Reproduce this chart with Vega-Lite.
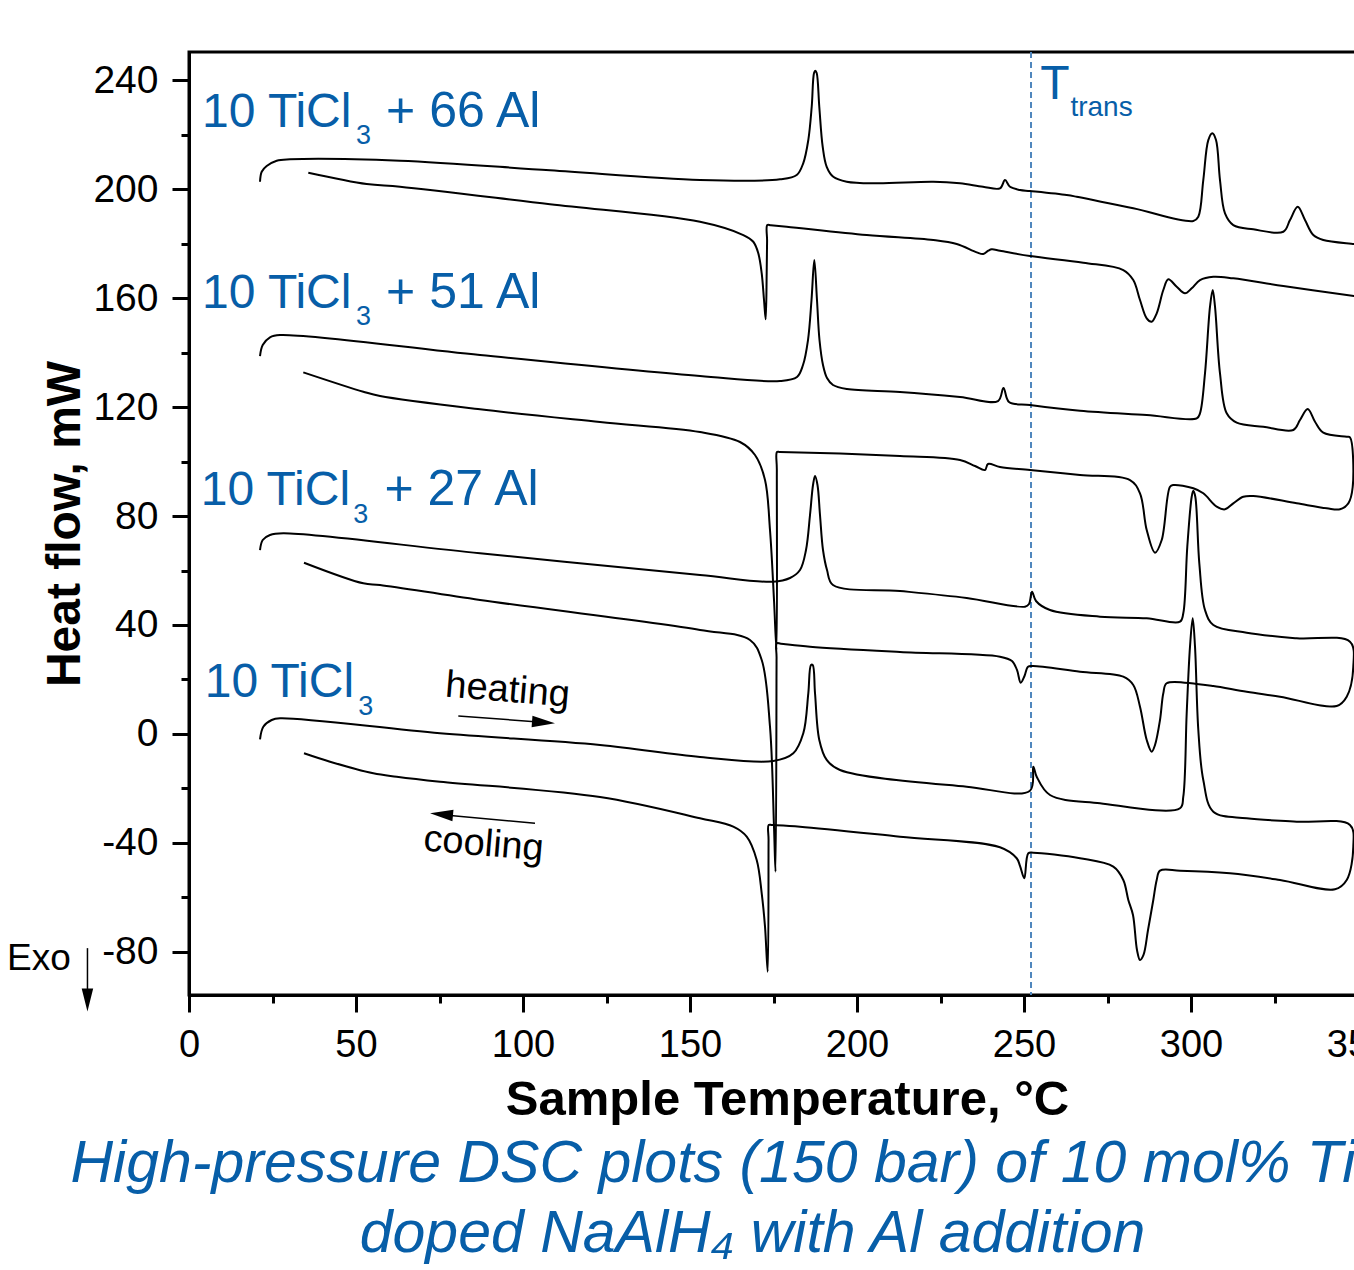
{
  "$schema": "https://vega.github.io/schema/vega-lite/v6.json",
  "width": 1169,
  "height": 943,
  "autosize": {"type": "none"},
  "padding": {"left": 189, "top": 52, "right": 0, "bottom": 275},
  "background": "white",
  "config": {
    "font": "Liberation Sans",
    "view": {"stroke": "black", "strokeWidth": 3},
    "axis": {"grid": false, "domainColor": "black", "domainWidth": 3, "tickColor": "black", "tickWidth": 3, "labelColor": "black", "titleColor": "black", "labelFont": "Liberation Sans", "titleFont": "Liberation Sans"}
  },
  "title": {
    "text": ["High-pressure DSC plots (150 bar) of 10 mol% TiCl₃", "doped NaAlH₄ with Al addition"],
    "orient": "bottom", "anchor": "middle", "frame": "group", "offset": 11, "dx": -21,
    "fontSize": 59, "fontStyle": "italic", "fontWeight": "normal", "font": "Liberation Sans", "color": "#075ea8", "lineHeight": 70
  },
  "datasets": {
    "curves": [
      {"s":"66","o":1,"t":21.26,"h":202.68},{"s":"66","o":2,"t":21.77,"h":206.35},{"s":"66","o":3,"t":23.26,"h":208.44},{"s":"66","o":4,"t":26.26,"h":210.39},{"s":"66","o":5,"t":30.24,"h":210.9},{"s":"66","o":6,"t":63.17,"h":210.39},{"s":"66","o":7,"t":108.08,"h":206.86},{"s":"66","o":8,"t":153.0,"h":203.3},{"s":"66","o":9,"t":176.95,"h":203.56},{"s":"66","o":10,"t":181.95,"h":205.14},{"s":"66","o":11,"t":183.92,"h":209.54},{"s":"66","o":12,"t":185.42,"h":217.98},{"s":"66","o":13,"t":186.44,"h":230.2},{"s":"66","o":14,"t":187.13,"h":242.57},{"s":"66","o":15,"t":187.51,"h":243.41},{"s":"66","o":16,"t":187.93,"h":242.57},{"s":"66","o":17,"t":188.71,"h":230.2},{"s":"66","o":18,"t":189.73,"h":215.52},{"s":"66","o":19,"t":190.93,"h":208.18},{"s":"66","o":20,"t":192.9,"h":204.51},{"s":"66","o":21,"t":196.92,"h":202.68},{"s":"66","o":22,"t":205.9,"h":202.09},{"s":"66","o":23,"t":222.84,"h":202.68},{"s":"66","o":24,"t":230.84,"h":202.09},{"s":"66","o":25,"t":237.72,"h":200.84},{"s":"66","o":26,"t":242.81,"h":200.26},{"s":"66","o":27,"t":244.31,"h":203.3},{"s":"66","o":28,"t":245.81,"h":200.84},{"s":"66","o":29,"t":248.8,"h":199.63},{"s":"66","o":30,"t":251.8,"h":199.27},{"s":"66","o":31,"t":262.78,"h":197.8},{"s":"66","o":32,"t":265.78,"h":197.17},{"s":"66","o":33,"t":282.72,"h":192.92},{"s":"66","o":34,"t":300.69,"h":188.26},{"s":"66","o":35,"t":302.19,"h":189.83},{"s":"66","o":36,"t":303.68,"h":203.3},{"s":"66","o":37,"t":305.18,"h":217.98},{"s":"66","o":38,"t":306.38,"h":220.44},{"s":"66","o":39,"t":307.49,"h":217.98},{"s":"66","o":40,"t":308.68,"h":203.3},{"s":"66","o":41,"t":310.18,"h":191.08},{"s":"66","o":42,"t":312.66,"h":186.79},{"s":"66","o":43,"t":318.65,"h":185.21},{"s":"66","o":44,"t":327.63,"h":184.33},{"s":"66","o":45,"t":329.64,"h":188.62},{"s":"66","o":46,"t":331.95,"h":193.5},{"s":"66","o":47,"t":334.13,"h":188.62},{"s":"66","o":48,"t":336.62,"h":183.12},{"s":"66","o":49,"t":339.61,"h":181.28},{"s":"66","o":50,"t":348.8,"h":179.82},{"s":"66","o":51,"t":349.8,"h":179.6},{"s":"66","o":52,"t":350.3,"h":168},{"s":"66","o":53,"t":349.8,"h":160.5},
      {"s":"66","o":54,"t":348.8,"h":160.73},{"s":"66","o":55,"t":327.63,"h":164.4},{"s":"66","o":56,"t":312.66,"h":167.23},{"s":"66","o":57,"t":306.68,"h":167.82},{"s":"66","o":58,"t":302.69,"h":166.61},{"s":"66","o":59,"t":300.21,"h":163.56},{"s":"66","o":60,"t":298.2,"h":161.72},{"s":"66","o":61,"t":295.72,"h":164.15},{"s":"66","o":62,"t":293.2,"h":166.86},{"s":"66","o":63,"t":291.71,"h":162.94},{"s":"66","o":64,"t":289.73,"h":154.39},{"s":"66","o":65,"t":288.23,"h":151.3},{"s":"66","o":66,"t":286.74,"h":152.55},{"s":"66","o":67,"t":284.73,"h":159.27},{"s":"66","o":68,"t":282.72,"h":166.61},{"s":"66","o":69,"t":279.73,"h":170.28},{"s":"66","o":70,"t":267.75,"h":172.95},{"s":"66","o":71,"t":251.8,"h":175.41},{"s":"66","o":72,"t":242.81,"h":177.36},{"s":"66","o":73,"t":240.33,"h":177.87},{"s":"66","o":74,"t":239.31,"h":177.36},{"s":"66","o":75,"t":237.81,"h":176.15},{"s":"66","o":76,"t":235.84,"h":176.77},{"s":"66","o":77,"t":229.85,"h":179.82},{"s":"66","o":78,"t":222.84,"h":181.28},{"s":"66","o":79,"t":202.9,"h":183.12},{"s":"66","o":80,"t":178.95,"h":186.17},{"s":"66","o":80.5,"t":174.2,"h":186.7},{"s":"66","o":81,"t":173.14,"h":186.79},{"s":"66","o":81.5,"t":173.08,"h":181.0},{"s":"66","o":82,"t":172.96,"h":169.17},{"s":"66","o":83,"t":172.66,"h":152.18},{"s":"66","o":84,"t":172.16,"h":159.27},{"s":"66","o":85,"t":171.47,"h":169.06},{"s":"66","o":86,"t":170.45,"h":176.4},{"s":"66","o":87,"t":168.95,"h":180.66},{"s":"66","o":88,"t":165.96,"h":183.12},{"s":"66","o":89,"t":153.0,"h":188.0},{"s":"66","o":90,"t":108.08,"h":194.42},{"s":"66","o":91,"t":63.17,"h":200.84},{"s":"66","o":92,"t":53.2,"h":201.83},{"s":"66","o":93,"t":35.72,"h":205.98},

      {"s":"51","o":1,"t":21.26,"h":138.72},{"s":"51","o":2,"t":22.07,"h":142.75},{"s":"51","o":3,"t":24.25,"h":145.58},{"s":"51","o":4,"t":27.25,"h":146.42},{"s":"51","o":5,"t":87.13,"h":139.08},{"s":"51","o":6,"t":153.0,"h":131.38},{"s":"51","o":7,"t":176.95,"h":129.54},{"s":"51","o":8,"t":182.04,"h":131.01},{"s":"51","o":9,"t":183.83,"h":135.41},{"s":"51","o":10,"t":185.33,"h":144.59},{"s":"51","o":11,"t":186.38,"h":159.27},{"s":"51","o":12,"t":187.22,"h":173.94},{"s":"51","o":13,"t":188.02,"h":159.27},{"s":"51","o":14,"t":188.77,"h":144.59},{"s":"51","o":15,"t":189.82,"h":135.41},{"s":"51","o":16,"t":191.02,"h":130.64},{"s":"51","o":17,"t":192.81,"h":128.07},{"s":"51","o":18,"t":197.01,"h":126.61},{"s":"51","o":19,"t":212.87,"h":125.5},{"s":"51","o":20,"t":230.84,"h":123.67},{"s":"51","o":21,"t":242.22,"h":122.2},{"s":"51","o":22,"t":243.86,"h":126.97},{"s":"51","o":23,"t":245.51,"h":121.83},{"s":"51","o":24,"t":251.8,"h":120.73},{"s":"51","o":25,"t":266.77,"h":118.64},{"s":"51","o":26,"t":286.74,"h":117.06},{"s":"51","o":27,"t":301.71,"h":115.85},{"s":"51","o":28,"t":302.69,"h":117.69},{"s":"51","o":29,"t":304.19,"h":132.37},{"s":"51","o":30,"t":305.69,"h":156.81},{"s":"51","o":31,"t":306.5,"h":162.94},{"s":"51","o":32,"t":307.19,"h":156.81},{"s":"51","o":33,"t":308.68,"h":132.37},{"s":"51","o":34,"t":310.69,"h":117.69},{"s":"51","o":35,"t":313.68,"h":114.24},{"s":"51","o":36,"t":321.65,"h":112.77},{"s":"51","o":37,"t":330.63,"h":111.56},{"s":"51","o":38,"t":332.63,"h":115.23},{"s":"51","o":39,"t":334.94,"h":119.27},{"s":"51","o":40,"t":337.13,"h":114.61},{"s":"51","o":41,"t":339.61,"h":110.57},{"s":"51","o":42,"t":346.62,"h":109.1},{"s":"51","o":43,"t":347.6,"h":108.88},{"s":"51","o":44,"t":348.41,"h":90.64},{"s":"51","o":45,"t":347.1,"h":84.66},{"s":"51","o":46,"t":344.61,"h":82.46},{"s":"51","o":47,"t":340.63,"h":82.83},{"s":"51","o":48,"t":331.65,"h":84.66},{"s":"51","o":49,"t":318.65,"h":87.34},{"s":"51","o":50,"t":315.66,"h":87.08},{"s":"51","o":51,"t":312.66,"h":84.66},{"s":"51","o":52,"t":310.18,"h":82.46},{"s":"51","o":53,"t":307.69,"h":83.41},{"s":"51","o":54,"t":303.68,"h":88.33},{"s":"51","o":55,"t":300.69,"h":90.17},{"s":"51","o":56,"t":294.7,"h":91.38},{"s":"51","o":57,"t":293.71,"h":90.75},{"s":"51","o":58,"t":291.23,"h":71.19},{"s":"51","o":59,"t":289.22,"h":66.53},{"s":"51","o":60,"t":286.74,"h":74.86},{"s":"51","o":61,"t":284.73,"h":88.33},{"s":"51","o":62,"t":281.74,"h":93.21},{"s":"51","o":63,"t":266.77,"h":95.05},{"s":"51","o":64,"t":251.8,"h":96.88},{"s":"51","o":65,"t":242.81,"h":97.98},{"s":"51","o":66,"t":239.22,"h":99.08},{"s":"51","o":67,"t":238.32,"h":96.88},{"s":"51","o":68,"t":235.33,"h":98.35},{"s":"51","o":69,"t":230.84,"h":100.55},{"s":"51","o":70,"t":212.87,"h":102.02},{"s":"51","o":71,"t":176.95,"h":103.49},{"s":"51","o":72,"t":176.05,"h":103.49},{"s":"51","o":72.5,"t":176.0,"h":97.0},{"s":"51","o":73,"t":175.9,"h":30.83},{"s":"51","o":74,"t":175.15,"h":49.17},{"s":"51","o":75,"t":173.95,"h":74.86},{"s":"51","o":76,"t":172.46,"h":93.21},{"s":"51","o":77,"t":169.46,"h":102.39},{"s":"51","o":78,"t":164.97,"h":107.16},{"s":"51","o":79,"t":153.0,"h":110.83},{"s":"51","o":80,"t":123.05,"h":114.5},{"s":"51","o":81,"t":87.13,"h":119.16},{"s":"51","o":82,"t":57.19,"h":124.04},{"s":"51","o":83,"t":52.19,"h":125.61},{"s":"51","o":84,"t":34.22,"h":132.73},

      {"s":"27","o":1,"t":21.26,"h":67.52},{"s":"27","o":2,"t":22.07,"h":71.19},{"s":"27","o":3,"t":24.25,"h":73.03},{"s":"27","o":4,"t":28.23,"h":73.65},{"s":"27","o":5,"t":87.13,"h":66.31},{"s":"27","o":6,"t":153.0,"h":58.35},{"s":"27","o":7,"t":174.85,"h":55.89},{"s":"27","o":8,"t":179.94,"h":57.25},{"s":"27","o":9,"t":182.93,"h":60.18},{"s":"27","o":10,"t":184.73,"h":67.52},{"s":"27","o":11,"t":185.93,"h":80.37},{"s":"27","o":12,"t":186.83,"h":91.38},{"s":"27","o":13,"t":187.43,"h":94.68},{"s":"27","o":14,"t":188.17,"h":91.38},{"s":"27","o":15,"t":188.92,"h":80.37},{"s":"27","o":16,"t":189.82,"h":67.52},{"s":"27","o":17,"t":191.02,"h":60.18},{"s":"27","o":18,"t":192.81,"h":54.68},{"s":"27","o":19,"t":212.87,"h":52.48},{"s":"27","o":20,"t":232.84,"h":49.91},{"s":"27","o":21,"t":250.3,"h":46.72},{"s":"27","o":22,"t":251.5,"h":47.71},{"s":"27","o":23,"t":252.4,"h":52.22},{"s":"27","o":24,"t":253.59,"h":48.81},{"s":"27","o":25,"t":257.78,"h":45.5},{"s":"27","o":26,"t":272.75,"h":43.05},{"s":"27","o":27,"t":286.74,"h":42.46},{"s":"27","o":28,"t":296.71,"h":41.21},{"s":"27","o":29,"t":297.69,"h":44.29},{"s":"27","o":30,"t":298.89,"h":68.73},{"s":"27","o":31,"t":300.21,"h":87.08},{"s":"27","o":32,"t":300.69,"h":89.28},{"s":"27","o":33,"t":301.29,"h":87.08},{"s":"27","o":34,"t":302.49,"h":62.64},{"s":"27","o":35,"t":304.19,"h":45.5},{"s":"27","o":36,"t":306.68,"h":40.0},{"s":"27","o":37,"t":316.68,"h":37.17},{"s":"27","o":38,"t":331.65,"h":35.12},{"s":"27","o":39,"t":347.6,"h":33.87},{"s":"27","o":40,"t":348.59,"h":24.7},{"s":"27","o":41,"t":346.62,"h":13.69},{"s":"27","o":42,"t":343.62,"h":10.28},{"s":"27","o":43,"t":326.65,"h":13.69},{"s":"27","o":44,"t":316.68,"h":15.52},{"s":"27","o":45,"t":306.68,"h":17.61},{"s":"27","o":46,"t":301.71,"h":18.35},{"s":"27","o":47,"t":292.72,"h":18.61},{"s":"27","o":48,"t":291.71,"h":14.94},{"s":"27","o":49,"t":290.72,"h":5.14},{"s":"27","o":50,"t":289.22,"h":-4.04},{"s":"27","o":51,"t":288.23,"h":-6.5},{"s":"27","o":52,"t":286.74,"h":-2.2},{"s":"27","o":53,"t":284.73,"h":10.02},{"s":"27","o":54,"t":282.72,"h":17.98},{"s":"27","o":55,"t":279.73,"h":21.03},{"s":"27","o":56,"t":266.77,"h":22.86},{"s":"27","o":57,"t":252.69,"h":24.95},{"s":"27","o":58,"t":251.2,"h":24.7},{"s":"27","o":59,"t":250.15,"h":21.28},{"s":"27","o":60,"t":249.01,"h":18.83},{"s":"27","o":61,"t":247.9,"h":23.49},{"s":"27","o":62,"t":246.41,"h":26.79},{"s":"27","o":63,"t":242.81,"h":28.37},{"s":"27","o":64,"t":212.87,"h":30.09},{"s":"27","o":65,"t":185.93,"h":32.04},{"s":"27","o":65.5,"t":177.2,"h":33.15},{"s":"27","o":66,"t":175.96,"h":33.28},{"s":"27","o":66.5,"t":175.92,"h":28.0},{"s":"27","o":67,"t":175.6,"h":-50.53},{"s":"27","o":68,"t":175.15,"h":-34.02},{"s":"27","o":69,"t":173.95,"h":2.68},{"s":"27","o":70,"t":171.47,"h":27.16},{"s":"27","o":71,"t":167.96,"h":34.5},{"s":"27","o":72,"t":153.0,"h":38.17},{"s":"27","o":73,"t":87.13,"h":49.17},{"s":"27","o":74,"t":57.19,"h":54.68},{"s":"27","o":75,"t":52.19,"h":55.3},{"s":"27","o":76,"t":34.43,"h":62.86},

      {"s":"10","o":1,"t":21.26,"h":-1.94},{"s":"10","o":2,"t":22.25,"h":2.68},{"s":"10","o":3,"t":24.76,"h":5.14},{"s":"10","o":4,"t":27.25,"h":5.76},{"s":"10","o":5,"t":75.15,"h":0.26},{"s":"10","o":6,"t":123.05,"h":-4.04},{"s":"10","o":7,"t":153.0,"h":-8.44},{"s":"10","o":8,"t":174.94,"h":-9.91},{"s":"10","o":9,"t":180.93,"h":-7.08},{"s":"10","o":10,"t":183.92,"h":0.26},{"s":"10","o":11,"t":185.42,"h":14.94},{"s":"10","o":12,"t":186.23,"h":25.32},{"s":"10","o":13,"t":186.74,"h":25.32},{"s":"10","o":14,"t":187.43,"h":14.94},{"s":"10","o":15,"t":188.71,"h":-2.2},{"s":"10","o":16,"t":190.93,"h":-9.54},{"s":"10","o":17,"t":194.91,"h":-13.21},{"s":"10","o":18,"t":232.84,"h":-19.34},{"s":"10","o":19,"t":251.8,"h":-20.81},{"s":"10","o":20,"t":252.78,"h":-12.0},{"s":"10","o":21,"t":253.8,"h":-15.67},{"s":"10","o":22,"t":257.78,"h":-22.39},{"s":"10","o":23,"t":272.75,"h":-25.43},{"s":"10","o":24,"t":296.71,"h":-27.27},{"s":"10","o":25,"t":297.69,"h":-23.01},{"s":"10","o":26,"t":298.71,"h":7.6},{"s":"10","o":27,"t":299.7,"h":32.04},{"s":"10","o":28,"t":300.51,"h":42.46},{"s":"10","o":29,"t":301.2,"h":32.04},{"s":"10","o":30,"t":302.19,"h":1.47},{"s":"10","o":31,"t":303.68,"h":-16.88},{"s":"10","o":32,"t":306.68,"h":-28.51},{"s":"10","o":33,"t":316.68,"h":-30.94},{"s":"10","o":34,"t":331.65,"h":-32.18},{"s":"10","o":35,"t":347.6,"h":-33.39},{"s":"10","o":36,"t":348.59,"h":-41.36},{"s":"10","o":37,"t":346.62,"h":-53.58},{"s":"10","o":38,"t":343.11,"h":-56.99},{"s":"10","o":39,"t":326.65,"h":-53.58},{"s":"10","o":40,"t":311.68,"h":-51.12},{"s":"10","o":41,"t":296.71,"h":-50.17},{"s":"10","o":42,"t":290.72,"h":-50.17},{"s":"10","o":43,"t":289.73,"h":-53.58},{"s":"10","o":44,"t":288.71,"h":-60.92},{"s":"10","o":45,"t":287.13,"h":-71.93},{"s":"10","o":46,"t":285.78,"h":-81.1},{"s":"10","o":47,"t":284.73,"h":-82.94},{"s":"10","o":48,"t":283.83,"h":-79.27},{"s":"10","o":49,"t":282.63,"h":-66.42},{"s":"10","o":50,"t":281.23,"h":-60.92},{"s":"10","o":51,"t":279.73,"h":-53.58},{"s":"10","o":52,"t":276.74,"h":-48.7},{"s":"10","o":53,"t":266.77,"h":-45.61},{"s":"10","o":54,"t":252.78,"h":-43.56},{"s":"10","o":55,"t":251.29,"h":-43.78},{"s":"10","o":56,"t":250.09,"h":-52.95},{"s":"10","o":57,"t":248.8,"h":-48.4},{"s":"10","o":58,"t":247.81,"h":-45.61},{"s":"10","o":59,"t":242.81,"h":-41.58},{"s":"10","o":60,"t":212.87,"h":-37.69},{"s":"10","o":61,"t":182.93,"h":-34.02},{"s":"10","o":61.5,"t":174.6,"h":-33.45},{"s":"10","o":62,"t":173.56,"h":-33.39},{"s":"10","o":62.5,"t":173.52,"h":-39.0},{"s":"10","o":63,"t":173.26,"h":-87.23},{"s":"10","o":64,"t":172.46,"h":-70.72},{"s":"10","o":65,"t":171.47,"h":-58.46},{"s":"10","o":66,"t":169.97,"h":-46.24},{"s":"10","o":67,"t":166.98,"h":-37.69},{"s":"10","o":68,"t":162.96,"h":-34.02},{"s":"10","o":69,"t":153.0,"h":-30.94},{"s":"10","o":70,"t":123.05,"h":-23.12},{"s":"10","o":71,"t":75.15,"h":-17.5},{"s":"10","o":72,"t":62.19,"h":-15.67},{"s":"10","o":73,"t":55.18,"h":-14.42},{"s":"10","o":74,"t":42.22,"h":-10.17},{"s":"10","o":75,"t":34.43,"h":-7.08}
    ],
    "labmain": [
      {"t": 3.9, "h": 222.6, "txt": "10 TiCl"},
      {"t": 3.9, "h": 156.2, "txt": "10 TiCl"},
      {"t": 3.5, "h": 84.0, "txt": "10 TiCl"},
      {"t": 4.7, "h": 13.5, "txt": "10 TiCl"},
      {"t": 254.9, "h": 232.9, "txt": "T"}
    ],
    "labplus": [
      {"t": 59.0, "h": 222.6, "txt": "+ 66 Al"},
      {"t": 59.0, "h": 156.2, "txt": "+ 51 Al"},
      {"t": 58.5, "h": 84.0, "txt": "+ 27 Al"}
    ],
    "labsub": [
      {"t": 50.0, "h": 216.5, "txt": "3"},
      {"t": 50.0, "h": 150.1, "txt": "3"},
      {"t": 49.2, "h": 77.5, "txt": "3"},
      {"t": 50.7, "h": 7.0, "txt": "3"}
    ],
    "trans": [{"t": 263.9, "h": 226.8, "txt": "trans"}],
    "dirs": [
      {"t": 95.4, "h": 15.9, "txt": "heating"},
      {"t": 88.2, "h": -40.6, "txt": "cooling"}
    ],
    "exo": [{"t": -54.5, "h": -86.6, "txt": "Exo"}],
    "shafts": [
      {"t": 80.63, "h": 6.61, "t2": 106.59, "h2": 4.22},
      {"t": 103.59, "h": -32.77, "t2": 76.65, "h2": -29.72},
      {"t": -30.4, "h": -78.6, "t2": -30.4, "h2": -97.0}
    ],
    "ttrans": [{"t": 252.1}]
  },
  "layer": [
    {
      "data": {"name": "ttrans"},
      "mark": {"type": "rule", "color": "#4f86bd", "strokeWidth": 2, "strokeDash": [6, 4]},
      "encoding": {
        "x": {"field": "t", "type": "quantitative", "scale": {"domain": [0, 350], "nice": false, "zero": false}, "axis": null}
      }
    },
    {
      "data": {"name": "curves"},
      "mark": {"type": "line", "color": "black", "strokeWidth": 2, "interpolate": "catmull-rom"},
      "encoding": {
        "x": {"field": "t", "type": "quantitative", "scale": {"domain": [0, 350], "nice": false, "zero": false},
          "axis": {"orient": "bottom", "values": [0, 50, 100, 150, 200, 250, 300, 350], "tickSize": 17, "labelFontSize": 38, "labelPadding": 14, "labelFlush": false, "labelOverlap": false, "title": "Sample Temperature, °C", "titleFontSize": 49, "titleFontWeight": "bold", "titlePadding": 11, "titleX": 598}},
        "y": {"field": "h", "type": "quantitative", "scale": {"domain": [-95.8, 250.3], "nice": false, "zero": false},
          "axis": {"orient": "left", "values": [-80, -40, 0, 40, 80, 120, 160, 200, 240], "labelExpr": "'' + datum.value", "tickSize": 17, "labelFontSize": 39, "labelPadding": 14, "labelOverlap": false, "title": "Heat flow, mW", "titleFontSize": 48, "titleFontWeight": "bold", "titlePadding": 3}},
        "detail": {"field": "s"},
        "order": {"field": "o", "type": "quantitative"}
      }
    },
    {
      "data": {"values": [{"t": 100, "h": 0}]},
      "mark": {"type": "point", "opacity": 0},
      "encoding": {
        "x": {"field": "t", "type": "quantitative", "scale": {"domain": [0, 350], "nice": false, "zero": false},
          "axis": {"orient": "bottom", "values": [25, 75, 125, 175, 225, 275, 325], "labels": false, "tickSize": 8, "domain": false, "title": null}},
        "y": {"field": "h", "type": "quantitative", "scale": {"domain": [-95.8, 250.3], "nice": false, "zero": false},
          "axis": {"orient": "left", "values": [-60, -20, 20, 60, 100, 140, 180, 220], "labels": false, "tickSize": 8, "domain": false, "title": null}}
      }
    },
    {
      "data": {"name": "labmain"},
      "mark": {"type": "text", "align": "left", "baseline": "alphabetic", "fontSize": 48, "fill": "#075ea8", "font": "Liberation Sans"},
      "encoding": {
        "x": {"field": "t", "type": "quantitative", "scale": {"domain": [0, 350], "nice": false, "zero": false}, "axis": null},
        "y": {"field": "h", "type": "quantitative", "scale": {"domain": [-95.8, 250.3], "nice": false, "zero": false}, "axis": null},
        "text": {"field": "txt"}
      }
    },
    {
      "data": {"name": "labplus"},
      "mark": {"type": "text", "align": "left", "baseline": "alphabetic", "fontSize": 50, "fill": "#075ea8", "font": "Liberation Sans"},
      "encoding": {
        "x": {"field": "t", "type": "quantitative", "scale": {"domain": [0, 350], "nice": false, "zero": false}, "axis": null},
        "y": {"field": "h", "type": "quantitative", "scale": {"domain": [-95.8, 250.3], "nice": false, "zero": false}, "axis": null},
        "text": {"field": "txt"}
      }
    },
    {
      "data": {"name": "labsub"},
      "mark": {"type": "text", "align": "left", "baseline": "alphabetic", "fontSize": 27, "fill": "#075ea8", "font": "Liberation Sans"},
      "encoding": {
        "x": {"field": "t", "type": "quantitative", "scale": {"domain": [0, 350], "nice": false, "zero": false}, "axis": null},
        "y": {"field": "h", "type": "quantitative", "scale": {"domain": [-95.8, 250.3], "nice": false, "zero": false}, "axis": null},
        "text": {"field": "txt"}
      }
    },
    {
      "data": {"name": "trans"},
      "mark": {"type": "text", "align": "left", "baseline": "alphabetic", "fontSize": 28, "fill": "#075ea8", "font": "Liberation Sans"},
      "encoding": {
        "x": {"field": "t", "type": "quantitative", "scale": {"domain": [0, 350], "nice": false, "zero": false}, "axis": null},
        "y": {"field": "h", "type": "quantitative", "scale": {"domain": [-95.8, 250.3], "nice": false, "zero": false}, "axis": null},
        "text": {"field": "txt"}
      }
    },
    {
      "data": {"name": "dirs"},
      "mark": {"type": "text", "align": "center", "baseline": "middle", "fontSize": 38, "angle": 4.8, "fill": "black", "font": "Liberation Sans"},
      "encoding": {
        "x": {"field": "t", "type": "quantitative", "scale": {"domain": [0, 350], "nice": false, "zero": false}, "axis": null},
        "y": {"field": "h", "type": "quantitative", "scale": {"domain": [-95.8, 250.3], "nice": false, "zero": false}, "axis": null},
        "text": {"field": "txt"}
      }
    },
    {
      "data": {"name": "exo"},
      "mark": {"type": "text", "align": "left", "baseline": "alphabetic", "fontSize": 37, "fill": "black", "font": "Liberation Sans"},
      "encoding": {
        "x": {"field": "t", "type": "quantitative", "scale": {"domain": [0, 350], "nice": false, "zero": false}, "axis": null},
        "y": {"field": "h", "type": "quantitative", "scale": {"domain": [-95.8, 250.3], "nice": false, "zero": false}, "axis": null},
        "text": {"field": "txt"}
      }
    },
    {
      "data": {"name": "shafts"},
      "mark": {"type": "rule", "color": "black", "strokeWidth": 1.5},
      "encoding": {
        "x": {"field": "t", "type": "quantitative", "scale": {"domain": [0, 350], "nice": false, "zero": false}, "axis": null},
        "y": {"field": "h", "type": "quantitative", "scale": {"domain": [-95.8, 250.3], "nice": false, "zero": false}, "axis": null},
        "x2": {"field": "t2"},
        "y2": {"field": "h2"}
      }
    },
    {
      "data": {"values": [{"t": 106.14, "h": 4.26}]},
      "mark": {"type": "point", "shape": "M1,0L-1,-0.5L-1,0.5Z", "filled": true, "color": "black", "opacity": 1, "size": 529, "angle": 4.3},
      "encoding": {
        "x": {"field": "t", "type": "quantitative", "scale": {"domain": [0, 350], "nice": false, "zero": false}, "axis": null},
        "y": {"field": "h", "type": "quantitative", "scale": {"domain": [-95.8, 250.3], "nice": false, "zero": false}, "axis": null}
      }
    },
    {
      "data": {"values": [{"t": 75.6, "h": -29.5}]},
      "mark": {"type": "point", "shape": "M1,0L-1,-0.5L-1,0.5Z", "filled": true, "color": "black", "opacity": 1, "size": 529, "angle": 185.4},
      "encoding": {
        "x": {"field": "t", "type": "quantitative", "scale": {"domain": [0, 350], "nice": false, "zero": false}, "axis": null},
        "y": {"field": "h", "type": "quantitative", "scale": {"domain": [-95.8, 250.3], "nice": false, "zero": false}, "axis": null}
      }
    },
    {
      "data": {"values": [{"t": -30.4, "h": -97.6}]},
      "mark": {"type": "point", "shape": "M1,0L-1,-0.5L-1,0.5Z", "filled": true, "color": "black", "opacity": 1, "size": 529, "angle": 90},
      "encoding": {
        "x": {"field": "t", "type": "quantitative", "scale": {"domain": [0, 350], "nice": false, "zero": false}, "axis": null},
        "y": {"field": "h", "type": "quantitative", "scale": {"domain": [-95.8, 250.3], "nice": false, "zero": false}, "axis": null}
      }
    }
  ],
  "resolve": {"axis": {"x": "independent", "y": "independent"}}
}
